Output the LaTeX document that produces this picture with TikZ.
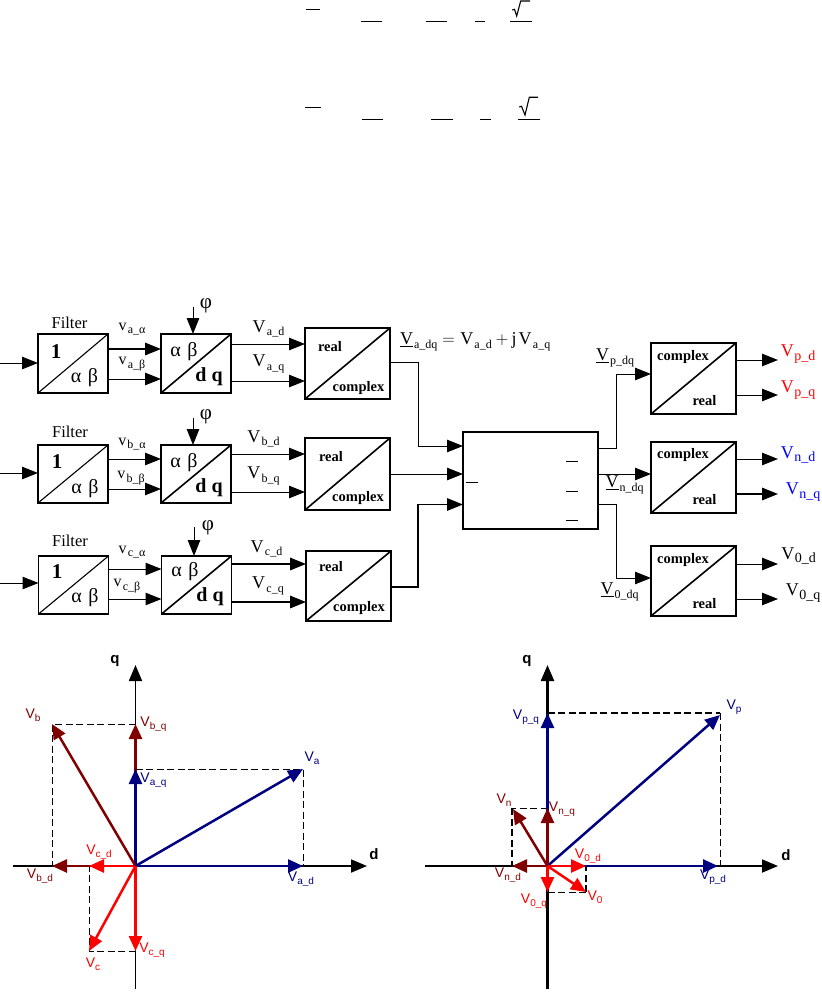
\documentclass[tikz,border=0pt]{standalone}
\usepackage{fontspec}
\setmainfont{Liberation Serif}
\setsansfont{Liberation Sans}
\usetikzlibrary{arrows.meta,calc}
\newcommand{\SV}[2]{#1\kern1.2pt\raisebox{-3.5pt}{\fontsize{12}{12}\selectfont #2}}
\newcommand{\SU}[2]{\underline{#1}\kern1pt\raisebox{-3.5pt}{\fontsize{12}{12}\selectfont #2}}
\newcommand{\SR}[2]{#1\kern.5pt\raisebox{-3.5pt}{\fontsize{14}{14}\selectfont #2}}
\newcommand{\SA}[2]{V\raisebox{-2.5pt}{\fontsize{10}{10}\selectfont #2}}
\definecolor{navyc}{HTML}{000080}
\definecolor{maroonc}{HTML}{800000}
\tikzset{
  every node/.style={inner sep=0pt,outer sep=0pt},
  blockbox/.style={draw,line width=1.8pt,minimum width=#1,rectangle},
  blockbox/.default=70pt,
  sig/.style={line width=1pt,-{Triangle[length=16pt,width=12.5pt]},shorten >=0pt},
  sigthick/.style={sig,line width=1.6pt},
  diag/.style={line width=1.6pt},
  captext/.style={font=\fontsize{16.5}{18}\selectfont},
  phitext/.style={font=\fontsize{21}{22}\selectfont},
  bigtext/.style={font=\fontsize{18}{20}\selectfont},
  smalltext/.style={font=\fontsize{16}{18}\selectfont},
  bt/.style={font=\fontsize{14.5}{16}\selectfont\bfseries},
  gr/.style={font=\fontsize{20}{22}\selectfont},
  grb/.style={font=\fontsize{20}{22}\selectfont\bfseries},
  onetext/.style={font=\fontsize{21}{22}\selectfont\bfseries},
  alab/.style={font=\sffamily\fontsize{14}{15}\selectfont},
  axlab/.style={font=\sffamily\bfseries\fontsize{15}{17}\selectfont},
  axisline/.style={line width=1.8pt,-{Triangle[length=16pt,width=13pt]}},
  ph/.style={line width=2.5pt,-{Triangle[length=15pt,width=13pt]}},
  dsh/.style={line width=.8pt,dash pattern=on 7pt off 3.5pt},
  dshb/.style={line width=1.2pt,dash pattern=on 7pt off 3.5pt},
  eqbar/.style={line width=.9pt},
}
\begin{document}
\begin{tikzpicture}[x=1pt,y=-1pt]
\useasboundingbox (0,0) rectangle (821,992);
% equation fragments
\draw[eqbar] (306,9)--(320,9) (361,21)--(382,21) (426,21)--(447,21) (475,21)--(485,21) (510,21)--(532,21);
\draw[eqbar,line width=1.1pt] (512.3,10)--(514.5,9.3)--(516.7,16)--(520.7,1)--(530,1);
\draw[eqbar] (305,107)--(321,107) (362,119)--(383,119) (431,119)--(453,119) (480,119)--(491,119) (518,119)--(540,119);
\draw[eqbar,line width=1.1pt] (519.3,107)--(521.5,106.3)--(525,115)--(529.3,97.3)--(538,97.3);

% blocks row a
\node[blockbox=70pt,minimum height=59pt] (fa) at (73,363.5) {};
\node[blockbox=70pt,minimum height=59pt] (da) at (196,363.5) {};
\node[blockbox=85pt,minimum height=71pt] (ra) at (347.5,363.5) {};
% row b
\node[blockbox=70pt,minimum height=58pt] (fb) at (73,474) {};
\node[blockbox=70pt,minimum height=58pt] (db) at (196,474) {};
\node[blockbox=85pt,minimum height=72pt] (rb) at (347.5,474) {};
% row c
\node[blockbox=70pt,minimum height=58pt] (fc) at (73.5,585) {};
\node[blockbox=70pt,minimum height=58pt] (dc) at (196.5,585) {};
\node[blockbox=85pt,minimum height=70pt] (rc) at (348.5,586) {};
% centre and right
\node[blockbox=135pt,minimum height=97pt] (mid) at (530.5,480.5) {};
\node[blockbox=85pt,minimum height=71pt] (cp) at (693.5,378.5) {};
\node[blockbox=85pt,minimum height=71pt] (cn) at (693.5,477.5) {};
\node[blockbox=85pt,minimum height=70pt] (cz) at (693.5,581) {};
\foreach \b in {fa,fb,fc}{\draw[line width=1.1pt] (\b.south west)--(\b.north east);}
\foreach \b in {da,db,dc,ra,rb,rc,cp,cn,cz}{\draw[diag] (\b.south west)--(\b.north east);}
% centre box bars
\draw[eqbar] (566,461)--(578,461) (566,491)--(578,491) (566,520)--(578,520) (466,482)--(478,482);

% free ends
\coordinate (ina) at (0,363);
\coordinate (inb) at (0,473);
\coordinate (inc) at (0,583);
\coordinate (pa) at (193,307);
\coordinate (pb) at (193,418);
\coordinate (pc) at (194,527);
\draw[sig] (ina)--(fa.west|-ina);
\draw[sig] (inb)--(fb.west|-inb);
\draw[sig] (inc)--(fc.west|-inc);
\draw[sig] (pa)--(pa|-da.north);
\draw[sig] (pb)--(pb|-db.north);
\draw[sig] (pc)--(pc|-dc.north);
% row a
\draw[sigthick] (fa.east|-0,349)--(da.west|-0,349);
\draw[sig] (fa.east|-0,379)--(da.west|-0,379);
\draw[sig] (da.east|-0,344)--(ra.west|-0,344);
\draw[sig] (da.east|-0,381)--(ra.west|-0,381);
% row b
\draw[sig] (fb.east|-0,459)--(db.west|-0,459);
\draw[sig] (fb.east|-0,489)--(db.west|-0,489);
\draw[sig] (db.east|-0,454)--(rb.west|-0,454);
\draw[sig] (db.east|-0,492)--(rb.west|-0,492);
% row c
\draw[sig] (fc.east|-0,569)--(dc.west|-0,569);
\draw[sig] (fc.east|-0,599)--(dc.west|-0,599);
\draw[sigthick] (dc.east|-0,564)--(rc.west|-0,564);
\draw[sigthick] (dc.east|-0,602)--(rc.west|-0,602);
% to centre
\draw[sig] (ra.east|-0,362)--(418,362)--(418,446)--(mid.west|-0,446);
\draw[sig] (rb.east|-0,474)--(mid.west|-0,474);
\draw[sig,line width=1.4pt] (rc.east|-0,587)--(418,587)--(418,504.5)--(mid.west|-0,504.5);
% from centre
\draw[sig] (mid.east|-0,448)--(616,448)--(616,374)--(cp.west|-0,374);
\draw[sig] (mid.east|-0,474)--(cn.west|-0,474);
\draw[sig] (mid.east|-0,504)--(616,504)--(616,578)--(cz.west|-0,578);
% right outs
\coordinate (opd) at (778,360);
\coordinate (opq) at (778,395);
\coordinate (ond) at (778,459);
\coordinate (onq) at (778,494);
\coordinate (ozd) at (778,564);
\coordinate (ozq) at (778,599);
\draw[sig] (cp.east|-opd)--(opd);
\draw[sig] (cp.east|-opq)--(opq);
\draw[sig] (cn.east|-ond)--(ond);
\draw[sigthick] (cn.east|-onq)--(onq);
\draw[sig] (cz.east|-ozd)--(ozd);
\draw[sig] (cz.east|-ozq)--(ozq);

% labels row a
\node[captext] (tfa) at (69.5,323) {Filter};
\node[onetext] (t1a) at (56,351.5) {1};
\node[gr] (t2a) at (84.5,378) {α\,\,β};
\node[gr] (t3a) at (184,352) {α\,\,β};
\node[grb] (t4a) at (209,377) {d q};
\node[bt] (t5a) at (330,347) {real};
\node[bt] (t6a) at (358.5,388) {complex};
\node[smalltext] (l1a) at (132,329) {\SV{v}{a\_α}};
\node[smalltext] (l2a) at (132,364) {\SV{v}{a\_β}};
\node[bigtext] (l3a) at (268.5,329) {\SV{V}{a\_d}};
\node[bigtext] (l4a) at (268.5,364) {\SV{V}{a\_q}};
\node[phitext] (pha) at (206,306) {φ};
% row b
\node[captext] (tfb) at (70,432) {Filter};
\node[onetext] (t1b) at (57,462) {1};
\node[gr] (t2b) at (85,489) {α\,\,β};
\node[gr] (t3b) at (184,463) {α\,\,β};
\node[grb] (t4b) at (209,488) {d q};
\node[bt] (t5b) at (331,457) {real};
\node[bt] (t6b) at (358,498) {complex};
\node[smalltext] (l1b) at (132,444) {\SV{v}{b\_α}};
\node[smalltext] (l2b) at (131,478) {\SV{v}{b\_β}};
\node[bigtext] (l3b) at (263.5,439) {\SV{V}{b\_d}};
\node[bigtext] (l4b) at (263.5,476) {\SV{V}{b\_q}};
\node[phitext] (phb) at (206,417) {φ};
% row c
\node[captext] (tfc) at (70,541) {Filter};
\node[onetext] (t1c) at (57,572) {1};
\node[gr] (t2c) at (85,598) {α\,\,β};
\node[gr] (t3c) at (185,572) {α\,\,β};
\node[grb] (t4c) at (210,597) {d q};
\node[bt] (t5c) at (331,567) {real};
\node[bt] (t6c) at (359,608) {complex};
\node[smalltext] (l1c) at (132,552) {\SV{v}{c\_α}};
\node[smalltext] (l2c) at (127,586) {\SV{v}{c\_β}};
\node[bigtext] (l3c) at (266.5,549) {\SV{V}{c\_d}};
\node[bigtext] (l4c) at (268,586) {\SV{V}{c\_q}};
\node[phitext] (phc) at (208,528) {φ};
% equation label
\node[bigtext,anchor=west] (eq) at (400,342) {\SU{V}{a\_dq}\kern5pt$=$\kern5.5pt\SV{V}{a\_d}\kern4pt$+$\kern3.5pt j\kern2pt\SV{V}{a\_q}};
\node[bigtext] (ldp) at (615,358) {\SU{V}{p\_dq}};
\node[bigtext] (ldn) at (624.5,485) {\SU{V}{n\_dq}};
\node[bigtext] (ldz) at (619.5,592) {\SU{V}{0\_dq}};
% right blocks
\foreach \b/\n/\u/\w in {cp/a/-21/22,cn/b/-22/22,cz/c/-21/22.5}{
  \node[bt] (tc\n) at ($(\b.center)+(-10.5,\u)$) {complex};
  \node[bt] (tr\n) at ($(\b.center)+(11,\w)$) {real};
}
% outputs
\node[bigtext,text=red] (vpd) at (798,354) {\SR{V}{p\_d}};
\node[bigtext,text=red] (vpq) at (798,390) {\SR{V}{p\_q}};
\node[bigtext,text=blue] (vnd) at (798,455) {\SR{V}{n\_d}};
\node[bigtext,text=blue] (vnq) at (803,492) {\SR{V}{n\_q}};
\node[bigtext] (vzd) at (798.5,556) {\SR{V}{0\_d}};
\node[bigtext] (vzq) at (803,593) {\SR{V}{0\_q}};

% left phasor diagram
\coordinate (oa) at (135.5,866);
\coordinate (dl) at (13,866); \coordinate (dr) at (367,866);
\coordinate (qt) at (135.5,665); \coordinate (qb) at (135.5,989);
\draw[axisline] (dl)--(dr);
\draw[axisline] (qb)--(qt);
\node[axlab] (lq) at (115,661) {q};
\node[axlab] (ld) at (374,854) {d};
\coordinate (Va) at (303,769);
\coordinate (Vb) at (52,724);
\coordinate (Vc) at (89,951);
\draw[dsh] (oa|-Va)--(Va)--(Va|-oa);
\draw[dsh] (oa|-Vb)--(Vb)--(Vb|-oa);
\draw[dsh] (oa|-Vc)--(Vc)--(Vc|-oa);
\draw[ph,maroonc] (oa)--(oa|-Vb);
\draw[ph,navyc] (oa)--(oa|-Va);
\draw[ph,maroonc] (oa)--(Vb|-oa);
\draw[ph,red] (oa)--(Vc|-oa);
\draw[ph,maroonc] (oa)--(Vb);
\draw[ph,navyc] (oa)--(Va);
\draw[ph,navyc] (oa)--(Va|-oa);
\draw[ph,red] (oa)--(oa|-Vc);
\draw[ph,red] (oa)--(Vc);
\node[alab,text=maroonc] (lVb) at (33,715) {\SA{V}{b}};
\node[alab,text=maroonc] (lVbq) at (153.5,724) {\SA{V}{b\_q}};
\node[alab,text=navyc] (lVa) at (312,758) {\SA{V}{a}};
\node[alab,text=navyc] (lVaq) at (153.5,780) {\SA{V}{a\_q}};
\node[alab,text=red] (lVcd) at (99,852) {\SA{V}{c\_d}};
\node[alab,text=maroonc] (lVbd) at (40,876) {\SA{V}{b\_d}};
\node[alab,text=navyc] (lVad) at (301,879) {\SA{V}{a\_d}};
\node[alab,text=red] (lVc) at (93,964) {\SA{V}{c}};
\node[alab,text=red] (lVcq) at (152,950) {\SA{V}{c\_q}};

% right phasor diagram
\coordinate (ob) at (547.5,866);
\coordinate (dl2) at (425,866); \coordinate (dr2) at (778,866);
\coordinate (qt2) at (547.5,665); \coordinate (qb2) at (547.5,989);
\draw[axisline] (dl2)--(dr2);
\draw[axisline,line width=2.3pt] (qb2)--(qt2);
\node[axlab] (lq2) at (527,661) {q};
\node[axlab] (ld2) at (786,855) {d};
\coordinate (Vp) at (720,713);
\coordinate (Vn) at (512,808);
\coordinate (Vz) at (586,892);
\draw[dshb] (ob|-Vp)--(Vp);
\draw[dsh] (Vp)--(Vp|-ob);
\draw[dsh] (ob|-Vn)--(Vn);
\draw[dshb] (Vn)--(Vn|-ob);
\draw[dsh] (ob|-Vz)--(Vz);
\draw[dshb] (Vz)--(Vz|-ob);
\draw[ph,navyc] (ob)--(ob|-Vp);
\draw[ph,navyc] (ob)--(718,866);
\draw[ph,navyc] (ob)--(720,715);
\draw[ph,maroonc] (ob)--(ob|-Vn);
\draw[ph,maroonc] (ob)--(Vn|-ob);
\draw[ph,maroonc] (ob)--(513,809);
\draw[ph,red] (ob)--(Vz|-ob);
\draw[ph,red] (ob)--(ob|-Vz);
\draw[ph,red] (ob)--(Vz);
\node[alab,text=navyc] (lVp) at (734,707) {\SA{V}{p}};
\node[alab,text=navyc] (lVpq) at (526,717) {\SA{V}{p\_q}};
\node[alab,text=maroonc] (lVn) at (504,800) {\SA{V}{n}};
\node[alab,text=maroonc] (lVnq) at (562,809) {\SA{V}{n\_q}};
\node[alab,text=red] (lVzd) at (588,856) {\SA{V}{0\_d}};
\node[alab,text=navyc] (lVpd) at (713,877) {\SA{V}{p\_d}};
\node[alab,text=maroonc] (lVnd) at (508,875) {\SA{V}{n\_d}};
\node[alab,text=red] (lVzq) at (534,901) {\SA{V}{0\_q}};
\node[alab,text=red] (lVz) at (595,897) {\SA{V}{0}};
\end{tikzpicture}
\end{document}
